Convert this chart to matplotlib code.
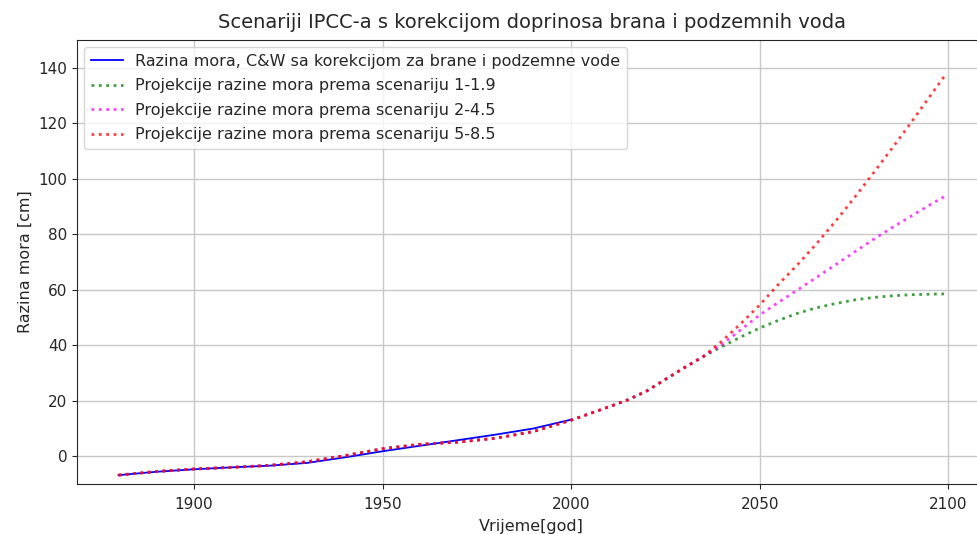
import matplotlib
matplotlib.use('Agg')
import matplotlib.pyplot as plt
import numpy as np

plt.rcParams.update({'font.size': 11.5, 'text.color': '#262626',
                     'axes.labelcolor': '#262626', 'xtick.color': '#262626',
                     'ytick.color': '#262626', 'xtick.labelsize': 11,
                     'ytick.labelsize': 11, 'axes.edgecolor': '#262626'})

# measured sea level (corrected), 1880-2000
god_mj = [1880, 1890, 1900, 1910, 1920, 1930, 1940, 1950, 1960, 1970, 1980, 1990, 2000]
razina_mj = [-6.8, -5.6, -4.7, -4.0, -3.4, -2.4, -0.4, 1.8, 3.8, 5.8, 7.8, 10.0, 13.2]

# projections, common part up to 2035 then per scenario
god_proj = [1880, 1890, 1900, 1910, 1920, 1930, 1940, 1950, 1960, 1970, 1980, 1990,
            2000, 2005, 2010, 2015, 2020, 2025, 2030, 2035,
            2040, 2045, 2050, 2055, 2060, 2065, 2070, 2075, 2080, 2085, 2090, 2095, 2099]
zajed = [-6.8, -5.5, -4.6, -4.0, -3.3, -2.0, 0.2, 2.7, 4.3, 5.1, 6.5, 8.9,
         13.0, 15.4, 17.8, 20.3, 23.5, 27.7, 31.9, 35.9]
s119 = zajed + [39.5, 43.0, 46.2, 49.0, 51.5, 53.5, 55.0, 56.3, 57.2, 57.8, 58.2, 58.4, 58.5]
s245 = zajed + [40.3, 45.6, 50.9, 55.5, 59.9, 64.4, 68.9, 73.5, 78.0, 82.3, 86.4, 90.5, 93.6]
s585 = zajed + [41.5, 47.8, 54.5, 62.0, 69.0, 76.5, 84.5, 93.0, 101.8, 110.8, 120.0, 129.5, 137.0]

fig = plt.figure(figsize=(9.77, 5.34), dpi=100)
ax = fig.add_axes([77/977, 50/534, 909/977, 444/534])

ax.plot(god_mj, razina_mj, color='blue', lw=1.3,
        label='Razina mora, C&W sa korekcijom za brane i podzemne vode')
ax.plot(god_proj, s119, ':', color='green', lw=2, alpha=0.75,
        label='Projekcije razine mora prema scenariju 1-1.9')
ax.plot(god_proj, s245, ':', color='magenta', lw=2, alpha=0.75,
        label='Projekcije razine mora prema scenariju 2-4.5')
ax.plot(god_proj, s585, ':', color='red', lw=2, alpha=0.75,
        label='Projekcije razine mora prema scenariju 5-8.5')

ax.set_xlim(1869, 2110)
ax.set_ylim(-10, 150)
ax.grid(True, color='#c8c8c8', lw=1.0)
ax.tick_params(axis='x', pad=6)
ax.legend(loc='upper left', borderaxespad=0.45, labelspacing=0.6)
ax.set_title('Scenariji IPCC-a s korekcijom doprinosa brana i podzemnih voda',
             fontsize=14, pad=9)
ax.set_xlabel('Vrijeme[god]', labelpad=5)
ax.set_ylabel('Razina mora [cm]')

fig.savefig('out.png', dpi=100)
